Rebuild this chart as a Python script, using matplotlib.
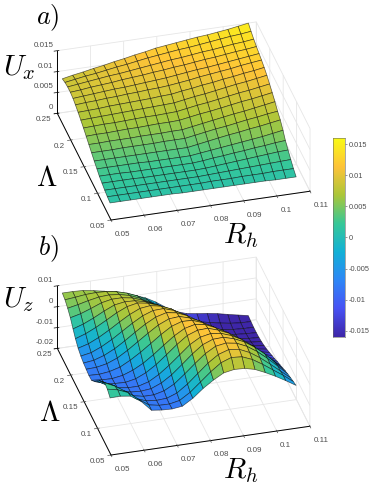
import numpy as np
import matplotlib
matplotlib.use('Agg')
import matplotlib.pyplot as plt
from matplotlib.colors import LinearSegmentedColormap
from matplotlib.transforms import IdentityTransform
from mpl_toolkits.mplot3d import proj3d

plt.rcParams['font.family'] = ['Liberation Sans', 'DejaVu Sans']
plt.rcParams['mathtext.fontset'] = 'cm'

# surface grid extent
rh_values = [0.0515, 0.0546, 0.0577, 0.0609, 0.0640, 0.0671, 0.0702, 0.0733, 0.0765, 0.0796,
             0.0827, 0.0858, 0.0889, 0.0921, 0.0952, 0.0983, 0.1014, 0.1045, 0.1076]
lam_values = [0.072, 0.082, 0.092, 0.102, 0.112, 0.121, 0.131, 0.141, 0.151, 0.161,
              0.171, 0.181, 0.191, 0.201, 0.210, 0.220, 0.230, 0.240, 0.250]

# Ux in units of 1e-4 (rows: Lambda low to high; columns: Rh low to high)
ux_e4 = [
 [11,11,11,11,11,11,11,10,10,10,10,10,10,10,10,10,9,9,9],
 [13,13,13,13,13,13,13,13,13,13,14,14,14,15,15,15,16,16,16],
 [16,16,16,16,16,16,16,16,16,16,17,18,19,20,21,22,23,24,25],
 [20,20,20,20,19,19,19,19,19,19,20,22,24,26,28,30,32,34,35],
 [24,24,24,23,23,23,23,23,23,23,25,28,30,33,35,38,40,43,45],
 [30,30,30,30,30,29,29,29,29,29,32,35,38,41,44,47,50,54,58],
 [36,36,36,36,36,36,36,36,36,36,40,44,48,52,55,59,62,66,70],
 [43,43,43,44,44,44,44,45,45,45,49,53,57,60,64,68,71,75,78],
 [50,50,51,51,51,52,52,52,53,53,57,61,65,69,73,76,80,84,88],
 [57,58,58,59,60,60,61,62,62,63,67,71,74,78,82,86,89,93,97],
 [64,65,66,66,67,68,69,69,70,71,75,79,82,86,90,94,97,101,105],
 [70,71,72,73,74,75,76,77,78,79,83,87,90,94,98,102,105,109,113],
 [76,77,78,80,81,82,83,84,86,87,91,94,98,101,105,108,112,115,119],
 [81,83,84,86,87,89,90,92,93,95,98,101,105,108,111,114,118,121,124],
 [85,87,89,91,93,94,96,98,100,102,105,108,111,113,116,119,122,125,128],
 [87,89,92,94,96,99,101,103,106,108,111,113,116,119,121,124,127,129,132],
 [87,90,93,96,99,101,104,107,110,113,116,118,121,124,126,129,132,134,137],
 [85,89,93,96,100,104,107,111,115,118,121,124,126,129,132,135,138,140,143],
 [81,86,90,95,99,104,108,113,117,122,125,128,131,134,136,139,142,146,150],
]

# Uz in units of 1e-4
uz_e4 = [
 [14,15,8,-25,-74,-80,-82,-76,-45,-5,28,55,64,62,50,28,3,-25,-55],
 [30,20,0,-40,-74,-83,-84,-74,-42,0,42,78,96,92,72,42,8,-25,-62],
 [35,12,-20,-62,-80,-85,-82,-64,-28,15,58,92,108,102,80,48,10,-30,-70],
 [15,-8,-45,-74,-84,-84,-72,-46,-5,38,78,106,114,106,84,52,12,-32,-78],
 [-5,-35,-66,-82,-85,-80,-60,-28,15,58,95,114,116,102,80,48,8,-40,-88],
 [-30,-58,-77,-84,-84,-70,-42,-5,38,80,108,118,112,94,68,32,-10,-55,-98],
 [-58,-74,-82,-84,-74,-52,-20,20,62,98,116,118,102,80,48,8,-34,-72,-108],
 [-78,-83,-84,-76,-58,-32,2,40,78,106,118,110,88,60,22,-18,-58,-90,-118],
 [-80,-82,-76,-62,-36,-5,30,66,98,114,112,94,68,32,-8,-48,-84,-110,-130],
 [-76,-74,-64,-44,-14,20,54,86,108,112,98,76,42,2,-38,-76,-106,-126,-140],
 [-72,-66,-50,-25,6,40,72,98,112,104,84,54,14,-28,-68,-102,-126,-140,-150],
 [-64,-55,-34,-6,26,58,86,104,106,90,64,26,-16,-58,-96,-124,-142,-152,-160],
 [-52,-38,-15,14,45,74,96,102,92,72,40,-2,-46,-86,-118,-140,-154,-162,-168],
 [-32,-15,8,36,64,86,96,88,72,46,10,-32,-74,-110,-136,-152,-162,-170,-174],
 [-8,8,30,56,78,86,84,72,50,18,-20,-62,-100,-130,-150,-162,-170,-175,-178],
 [20,32,50,70,80,80,72,54,28,-6,-46,-86,-120,-144,-158,-168,-174,-178,-180],
 [40,50,62,72,75,70,58,38,10,-24,-64,-102,-130,-148,-160,-170,-176,-179,-180],
 [55,60,66,68,66,58,44,24,-4,-36,-72,-106,-128,-144,-154,-164,-172,-177,-178],
 [62,62,60,52,42,30,15,0,-18,-45,-78,-105,-122,-130,-136,-144,-155,-165,-175],
]

rh_ticks = [0.05, 0.06, 0.07, 0.08, 0.09, 0.1, 0.11]
rh_labels = ['0.05', '0.06', '0.07', '0.08', '0.09', '0.1', '0.11']
lam_ticks = [0.05, 0.1, 0.15, 0.2, 0.25]
lam_labels = ['0.05', '0.1', '0.15', '0.2', '0.25']
ux_ticks = [0, 0.005, 0.01, 0.015]
ux_labels = ['0', '0.005', '0.01', '0.015']
uz_ticks = [-0.02, -0.01, 0, 0.01]
uz_labels = ['-0.02', '-0.01', '0', '0.01']
cb_ticks = [-0.015, -0.01, -0.005, 0, 0.005, 0.01, 0.015]
cb_labels = ['-0.015', '-0.01', '-0.005', '0', '0.005', '0.01', '0.015']

parula = LinearSegmentedColormap.from_list('parula', [
    (0.2422, 0.1504, 0.6603), (0.2810, 0.3228, 0.9579), (0.1786, 0.5289, 0.9682),
    (0.0689, 0.6948, 0.8394), (0.2161, 0.7843, 0.5923), (0.6720, 0.7793, 0.2227),
    (0.9970, 0.7659, 0.2199), (0.9769, 0.9839, 0.0805)], N=256)

W, H = 374, 484
fig = plt.figure(figsize=(W / 100, H / 100), dpi=100)
VMIN, VMAX = -0.016, 0.016
INK = (0.3, 0.3, 0.3)


def panel(z_e4, zlim, zticks, zlabels, A, B):
    ax = fig.add_axes([0.2, 0.2, 0.6, 0.6], projection='3d', proj_type='ortho')
    ax.patch.set_alpha(0)
    ax.view_init(elev=32.4, azim=-105.1)
    ax.set_box_aspect((1, 1, 0.36))
    X, Y = np.meshgrid(rh_values, lam_values)
    Z = np.array(z_e4) * 1e-4
    ax.plot_surface(X, Y, Z, rstride=1, cstride=1, cmap=parula, vmin=VMIN, vmax=VMAX,
                    shade=False, edgecolor=(0, 0, 0, 0.6), linewidth=0.5, antialiased=True)
    ax.set_xlim(0.05, 0.11, view_margin=0)
    ax.set_ylim(0.05, 0.25, view_margin=0)
    ax.set_zlim(zlim[0], zlim[1], view_margin=0)
    ax.set_xticks(rh_ticks, rh_labels)
    ax.set_yticks(lam_ticks, lam_labels)
    ax.set_zticks(zticks, [''] * len(zticks))
    for axis in (ax.xaxis, ax.yaxis, ax.zaxis):
        axis.set_pane_color((1, 1, 1, 0))
        axis.pane.set_edgecolor((0.88, 0.88, 0.88, 1))
        axis.pane.set_linewidth(0.6)
        axis._axinfo['grid']['color'] = (0.9, 0.9, 0.9, 1)
        axis._axinfo['grid']['linewidth'] = 0.6
        axis._axinfo['axisline']['color'] = (0.42, 0.42, 0.42, 1)
        axis._axinfo['tick']['color'] = (0.42, 0.42, 0.42, 1)
        axis._axinfo['tick']['linewidth'] = {True: 0.5, False: 0.5}
        axis.line.set_linewidth(0.7)
    ax.tick_params(axis='x', labelsize=5.8, colors=INK, pad=-1)
    ax.tick_params(axis='y', labelsize=5.8, colors=INK, pad=-5)
    for t in ax.get_xticklabels():
        t.set_ha('left')
    for t in ax.get_yticklabels():
        t.set_ha('right')
    # size and place the axes so that the floor edge lands where the reference has it
    target = np.array([A, B], dtype=float)
    target[:, 1] = H - target[:, 1]
    size = 300.0
    left, bottom = 40.0, H - 300.0
    for _ in range(4):
        ax.set_position([left / W, bottom / H, size / W, size / H])
        fig.canvas.draw()
        M = ax.get_proj()
        xa, ya, _z = proj3d.proj_transform(0.05, 0.05, zlim[0], M)
        xb, yb, _z = proj3d.proj_transform(0.11, 0.05, zlim[0], M)
        pts = ax.transData.transform([(xa, ya), (xb, yb)])
        scale = np.linalg.norm(target[1] - target[0]) / np.linalg.norm(pts[1] - pts[0])
        centre = np.array([left + size / 2, bottom + size / 2])
        new_centre = centre + (target[0] - (centre + (pts[0] - centre) * scale))
        size *= scale
        left, bottom = new_centre - size / 2
    ax.set_position([left / W, bottom / H, size / W, size / H])
    fig.canvas.draw()
    # z tick labels sit just left of and slightly above the z axis, as in the reference
    M = ax.get_proj()
    for value, text in zip(zticks, zlabels):
        xp, yp, _z = proj3d.proj_transform(0.05, 0.25, value, M)
        px, py = ax.transData.transform((xp, yp))
        fig.text(px - 4, py + 5.5, text, transform=IdentityTransform(), fontsize=5.8,
                 color=INK, ha='right', va='center')
    return ax


panel(ux_e4, (0, 0.015), ux_ticks, ux_labels, (111, 220), (310, 191))
panel(uz_e4, (-0.02, 0.01), uz_ticks, uz_labels, (111, 455), (310, 427))

cax = fig.add_axes([333 / W, 1 - 337 / H, 12 / W, 199 / H])
cax.imshow(np.linspace(VMIN, VMAX, 256)[:, None], origin='lower', aspect='auto', cmap=parula,
           extent=[0, 1, VMIN, VMAX], vmin=VMIN, vmax=VMAX)
cax.set_xticks([])
cax.yaxis.tick_right()
cax.set_yticks(cb_ticks, cb_labels)
cax.tick_params(axis='y', labelsize=5.3, colors=INK, length=1.5, width=0.4, pad=1.5)
for s in cax.spines.values():
    s.set_linewidth(0.4)
    s.set_color((0.4, 0.4, 0.4))

def label(x, y, s, size):
    fig.text(x / W, 1 - y / H, s, fontsize=size, ha='left', va='center', color='black')

label(36, 18, r'$a)$', 19)
label(38, 249, r'$b)$', 19)
label(3, 68, r'$U_x$', 21)
label(3, 300, r'$U_z$', 21)
label(36, 178, r'$\Lambda$', 21)
label(39, 413, r'$\Lambda$', 21)
label(223, 236, r'$R_h$', 21)
label(223, 471, r'$R_h$', 21)

fig.savefig('out.png', dpi=100)
